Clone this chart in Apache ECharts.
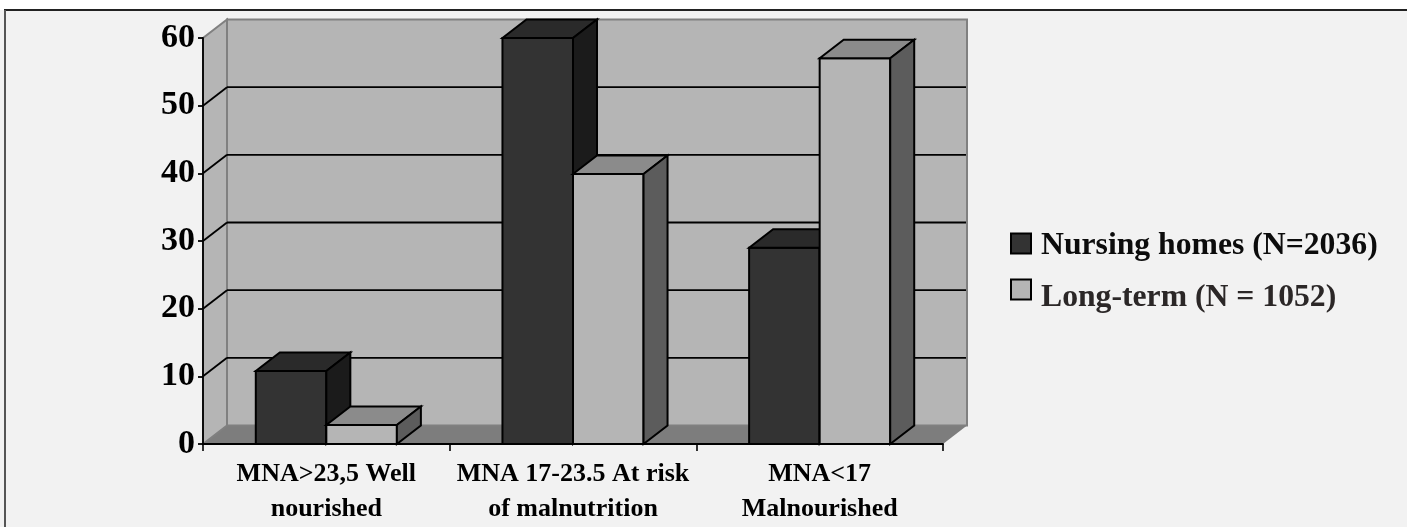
<!DOCTYPE html>
<html><head><meta charset="utf-8">
<style>html,body{margin:0;padding:0;background:#fff}#c{width:1407px;height:527px}</style>
<script src="https://cdn.jsdelivr.net/npm/echarts@6/dist/echarts.min.js"></script>
</head><body><div id="c"></div>
<script>
const categories = ['MNA>23,5 Well\nnourished', 'MNA 17-23.5 At risk\nof malnutrition', 'MNA<17\nMalnourished'];
const nursingHomes = [10.8, 60, 29];
const longTerm = [2.8, 39.9, 57];
const yTicks = [0, 10, 20, 30, 40, 50, 60];
const seriesNames = ['Nursing homes (N=2036)', 'Long-term (N = 1052)'];
const DX = 24, DY = -18.5, BAR = 0.286;
const FONT = '"Liberation Serif"';

const chart = echarts.init(document.getElementById('c'), null, {renderer: 'canvas'});
const poly = (pts, fill, stroke, w) => ({type: 'polygon', shape: {points: pts},
  style: {fill, stroke: stroke || null, lineWidth: w || 0, lineJoin: 'miter'}});
const line = (a, b, stroke, w) => ({type: 'line', shape: {x1: a[0], y1: a[1], x2: b[0], y2: b[1]},
  style: {stroke, lineWidth: w}});

function renderWalls(params, api) {
  const g = params.coordSys, x0 = g.x, x1 = g.x + g.width;
  const y0 = api.coord([0, 0])[1], yT = api.coord([0, 60])[1];
  const kids = [
    poly([[x0, y0], [x0 + DX, y0 + DY], [x1 + DX, y0 + DY], [x1, y0]], '#7d7d7d'),
    poly([[x0 + DX, y0 + DY], [x0 + DX, yT + DY], [x1 + DX, yT + DY], [x1 + DX, y0 + DY]], '#b5b5b5', '#808080', 2),
    poly([[x0, y0], [x0 + DX, y0 + DY], [x0 + DX, yT + DY], [x0, yT]], '#b5b5b5', '#808080', 2)
  ];
  yTicks.forEach(t => {
    if (t === 0 || t === 60) return;
    const y = api.coord([0, t])[1];
    kids.push(line([x0, y], [x0 + DX, y + DY], '#000', 1.8));
    kids.push(line([x0 + DX, y + DY], [x1 + DX - 1, y + DY], '#000', 1.8));
  });
  return {type: 'group', children: kids};
}
function barRenderer(side, front, top, right) {
  return function (params, api) {
    const c = api.value(0), v = api.value(1);
    const p = api.coord([c, v]), b = api.coord([c, 0]);
    const w = api.size([1, 0])[0] * BAR;
    const l = side === 0 ? p[0] - w : p[0], r = l + w;
    const st = '#000', lw = 2;
    return {type: 'group', children: [
      poly([[l, b[1]], [l, p[1]], [r, p[1]], [r, b[1]]], front, st, lw),
      poly([[l, p[1]], [l + DX, p[1] + DY], [r + DX, p[1] + DY], [r, p[1]]], top, st, lw),
      poly([[r, p[1]], [r + DX, p[1] + DY], [r + DX, b[1] + DY], [r, b[1]]], right, st, lw)
    ]};
  };
}
const legendBase = {orient: 'vertical', left: 1005, itemWidth: 20, itemHeight: 20, selectedMode: false};
const legendText = (color, gap) => ({
  fontFamily: FONT, fontWeight: 'bold', fontSize: 31.7, color,
  rich: {
    s: {fontSize: 1, lineHeight: gap},
    t: {fontFamily: FONT, fontWeight: 'bold', fontSize: 31.7, color, lineHeight: 36, padding: [0, 0, 0, 5]}
  }
});
chart.setOption({
  animation: false,
  backgroundColor: '#fff',
  graphic: [
    {type: 'rect', z: -10, silent: true, shape: {x: 0, y: 10, width: 1407, height: 517}, style: {fill: '#f2f2f2'}},
    {type: 'line', z: -9, silent: true, shape: {x1: 4, y1: 10, x2: 1407, y2: 10}, style: {stroke: '#222', lineWidth: 2}},
    {type: 'line', z: -9, silent: true, shape: {x1: 5, y1: 10, x2: 5, y2: 527}, style: {stroke: '#555', lineWidth: 2}}
  ],
  grid: {left: 203, right: 464, top: 38, bottom: 83},
  legend: [
    Object.assign({}, legendBase, {top: 220, data: [{name: seriesNames[0], icon: 'rect'}],
      formatter: n => '{s| }\n{t|' + n + '}', textStyle: legendText('#0c0c0c', 5)}),
    Object.assign({}, legendBase, {top: 266, data: [{name: seriesNames[1], icon: 'rect'}],
      formatter: n => '{s| }\n{t|' + n + '}', textStyle: legendText('#2b2727', 16)})
  ],
  xAxis: {type: 'category', data: categories, z: 5,
    axisLine: {lineStyle: {color: '#000', width: 1.8}},
    axisTick: {show: true, alignWithLabel: false, length: 7, lineStyle: {color: '#000', width: 1.6}},
    axisLabel: {fontFamily: FONT, fontWeight: 'bold', fontSize: 26, color: '#000', lineHeight: 35, margin: 13, interval: 0},
    splitLine: {show: false}},
  yAxis: {type: 'value', min: 0, max: 60, interval: 10, z: 5,
    axisLine: {show: true, lineStyle: {color: '#000', width: 1.8}},
    axisTick: {show: true, length: 5, lineStyle: {color: '#000', width: 1.8}},
    axisLabel: {fontFamily: FONT, fontWeight: 'bold', fontSize: 34, color: '#000', margin: 8},
    splitLine: {show: false}},
  series: [
    {type: 'custom', name: 'walls', silent: true, renderItem: renderWalls, data: [[0, 0]], encode: {x: 0, y: 1}, z: 1},
    {type: 'custom', name: seriesNames[0], renderItem: barRenderer(0, '#333333', '#2a2a2a', '#1b1b1b'),
      data: nursingHomes.map((v, i) => [i, v]), encode: {x: 0, y: 1}, z: 2,
      itemStyle: {color: '#333333', borderColor: '#000', borderWidth: 2}},
    {type: 'custom', name: seriesNames[1], renderItem: barRenderer(1, '#b5b5b5', '#8b8b8b', '#5c5c5c'),
      data: longTerm.map((v, i) => [i, v]), encode: {x: 0, y: 1}, z: 3,
      itemStyle: {color: '#b5b5b5', borderColor: '#000', borderWidth: 2}}
  ]
});
</script></body></html>
